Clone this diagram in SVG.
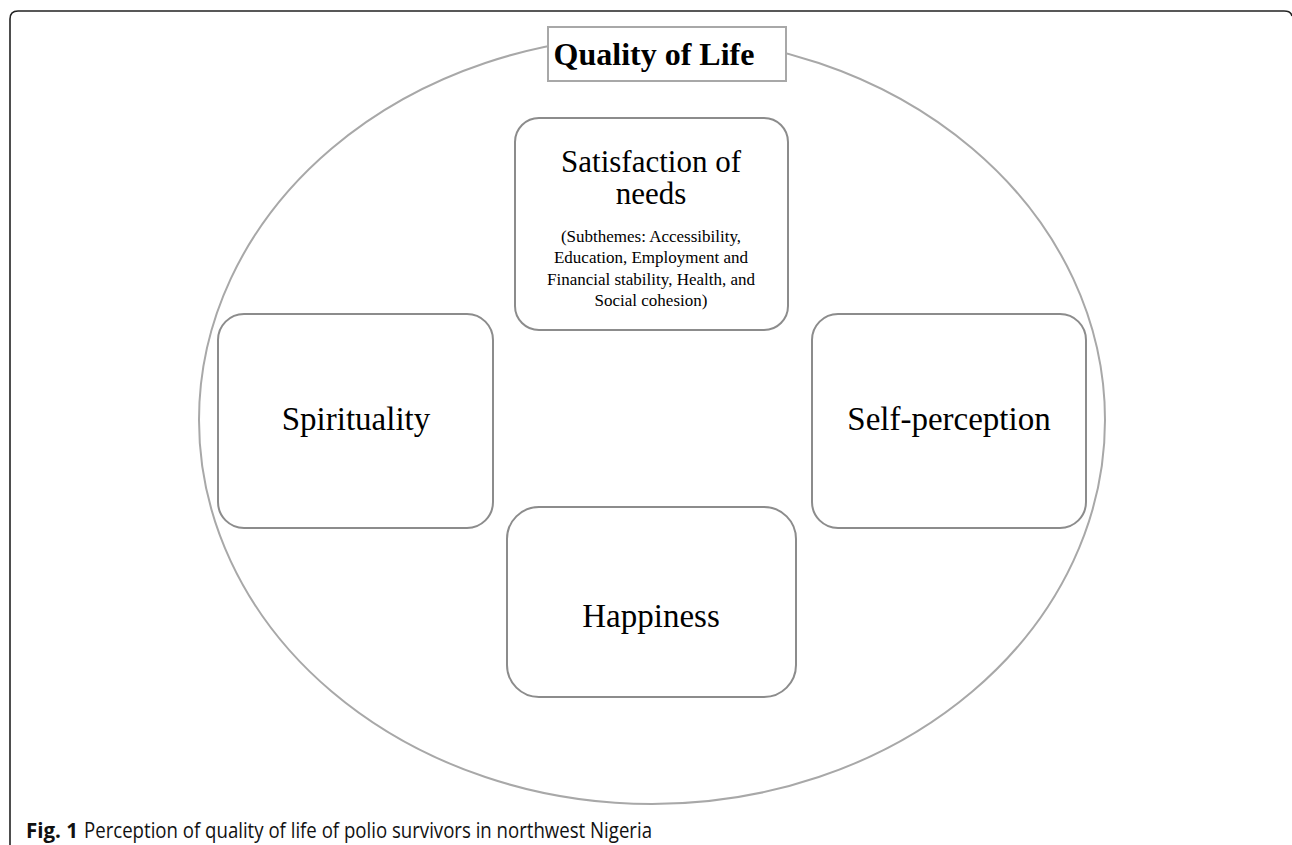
<svg xmlns="http://www.w3.org/2000/svg" width="1292" height="845" viewBox="0 0 1292 845">
<style>
.frame{fill:none;stroke:#222;stroke-width:1.6}
.ell{fill:none;stroke:#a8a8a8;stroke-width:2}
.box{fill:#fff;stroke:#8c8c8c;stroke-width:2}
.tbox{fill:#fff;stroke:#a8a8a8;stroke-width:2}
.t{font-family:"Liberation Serif","Times New Roman",serif;fill:#000;text-anchor:middle}
.cap{font-family:"Open Sans","Noto Sans","Liberation Sans",sans-serif;fill:#111;font-size:22px}
</style>
<rect width="1292" height="845" fill="#fff"/>
<path class="frame" d="M10,845 V19 Q10,11 18,11 H1284 Q1291,11 1292,16"/>
<g id="connectors"></g>
<g id="quality-of-life">
<ellipse class="ell" cx="652" cy="420" rx="453" ry="384"/>
<rect class="tbox" x="548" y="27" width="238" height="54"/>
<text class="t" x="654" y="65" font-size="32" font-weight="bold">Quality of Life</text>
</g>
<g id="satisfaction">
<rect class="box" x="515" y="118" width="273" height="212" rx="24"/>
<text class="t" x="651" y="172" font-size="31">Satisfaction of</text>
<text class="t" x="651" y="204" font-size="31">needs</text>
<text class="t" x="651" y="242" font-size="17">(Subthemes: Accessibility,</text>
<text class="t" x="651" y="263" font-size="17">Education, Employment and</text>
<text class="t" x="651" y="285" font-size="17">Financial stability, Health, and</text>
<text class="t" x="651" y="306" font-size="17">Social cohesion)</text>
</g>
<g id="spirituality">
<rect class="box" x="218" y="314" width="275" height="214" rx="26"/>
<text class="t" x="356" y="430" font-size="33">Spirituality</text>
</g>
<g id="self-perception">
<rect class="box" x="812" y="314" width="274" height="214" rx="26"/>
<text class="t" x="949" y="430" font-size="33">Self-perception</text>
</g>
<g id="happiness">
<rect class="box" x="507" y="507" width="289" height="190" rx="32"/>
<text class="t" x="651" y="627" font-size="33">Happiness</text>
</g>
<text class="cap" x="26" y="838" font-weight="bold" textLength="52" lengthAdjust="spacingAndGlyphs">Fig. 1</text>
<text class="cap" x="84" y="838" textLength="568" lengthAdjust="spacingAndGlyphs">Perception of quality of life of polio survivors in northwest Nigeria</text>
</svg>
